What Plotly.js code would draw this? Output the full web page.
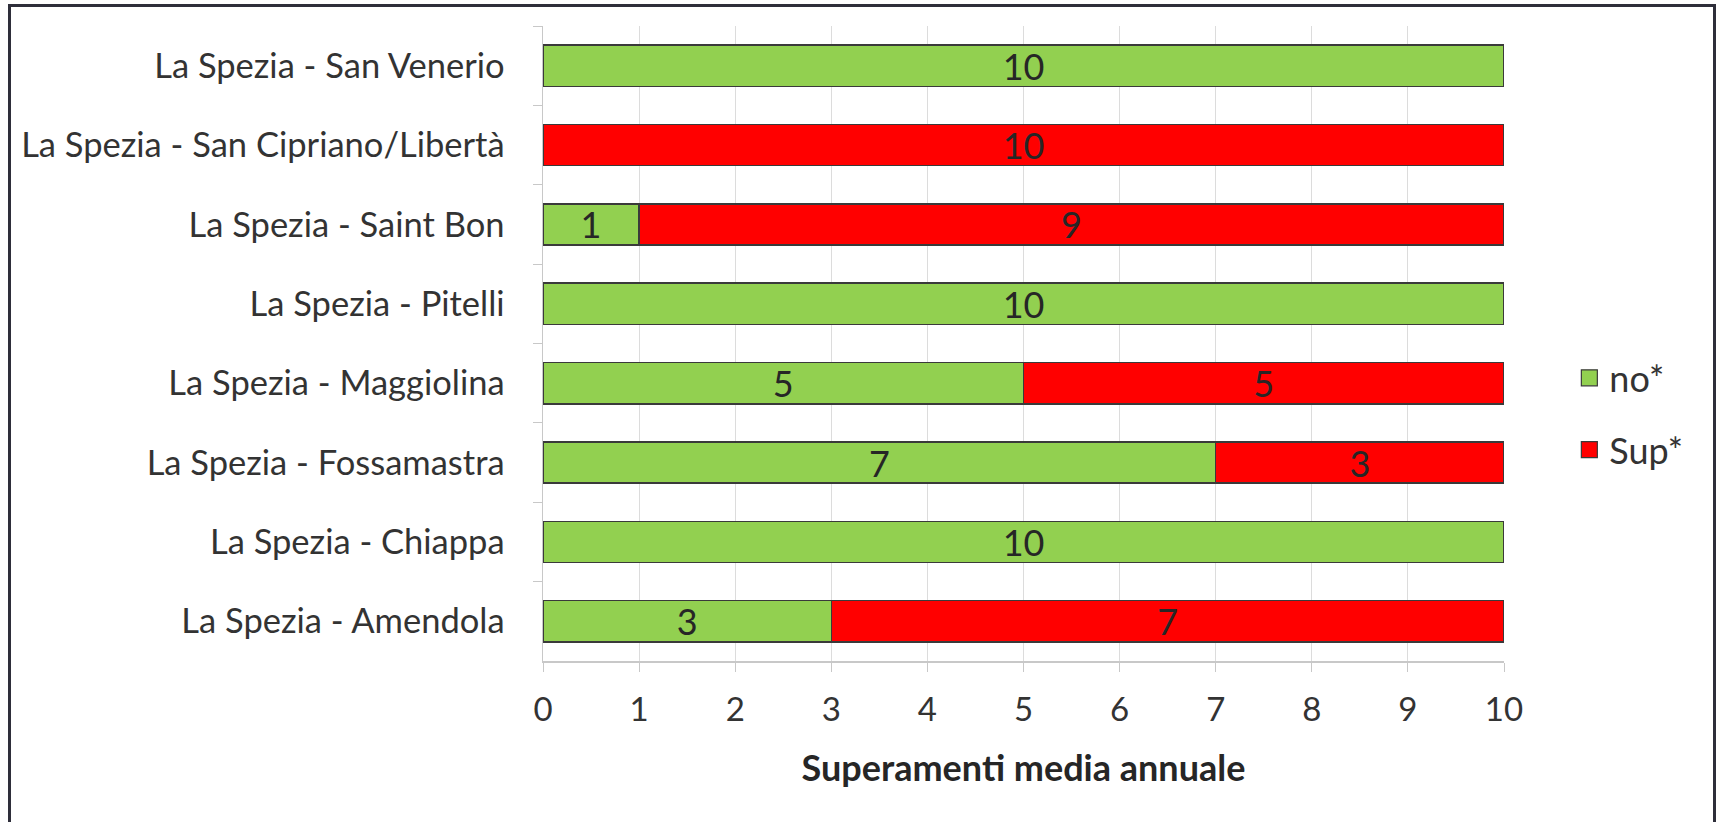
<!DOCTYPE html>
<html>
<head>
<meta charset="utf-8">
<script src="https://cdn.plot.ly/plotly-3.0.1.min.js"></script>
<style>
  html, body { margin: 0; padding: 0; background: #fff; }
  #wrap { position: relative; width: 1723px; height: 822px; overflow: hidden; }
  #chart { width: 1723px; height: 822px; }
  #frame { position: absolute; left: 8px; top: 4px; width: 1708px; height: 830px;
           border: 3px solid #2e2e3a; pointer-events: none; box-sizing: border-box; }
</style>
</head>
<body>
<div id="wrap">
  <div id="chart"></div>
  <div id="frame"></div>
</div>
<script>
// Categories, top to bottom
const stations = [
  "La Spezia - San Venerio",
  "La Spezia - San Cipriano/Libertà",
  "La Spezia - Saint Bon",
  "La Spezia - Pitelli",
  "La Spezia - Maggiolina",
  "La Spezia - Fossamastra",
  "La Spezia - Chiappa",
  "La Spezia - Amendola"
];
const noValues  = [10, 0, 1, 10, 5, 7, 10, 3];
const supValues = [0, 10, 9, 0, 5, 3, 0, 7];
const seriesNames = ["no*", "Sup*"];
const seriesColors = ["#92D050", "#FF0000"];
const xTicks = [0, 1, 2, 3, 4, 5, 6, 7, 8, 9, 10];
const xTitle = "Superamenti media annuale";

const FONT = "Lato, 'Open Sans', sans-serif";
const outline = { color: "#3a3a3a", width: 1.5 };

function mkBar(vals, color) {
  // only the non-zero segments are drawn
  const keep = vals.map(v => v !== 0);
  return {
    type: "bar",
    orientation: "h",
    y: stations.filter((_, i) => keep[i]),
    x: vals.filter((_, i) => keep[i]),
    showlegend: false,
    marker: { color: color, line: outline },
    texttemplate: "%{x}",
    textposition: "inside",
    insidetextanchor: "middle",
    textangle: 0,
    constraintext: "none",
    textfont: { family: FONT, size: 36, color: "#262626" },
    hoverinfo: "x+y"
  };
}

function mkLegend(name, color, group) {
  return {
    type: "scatter",
    mode: "markers",
    x: [null],
    y: [null],
    name: name,
    legendgroup: group,
    showlegend: true,
    marker: { symbol: "square", size: 16, color: color, line: { color: "#3a3a3a", width: 1.2 } },
    hoverinfo: "skip"
  };
}

const data = [
  mkBar(noValues, seriesColors[0]),
  mkBar(supValues, seriesColors[1]),
  mkLegend(seriesNames[0], seriesColors[0], "g1"),
  mkLegend(seriesNames[1], seriesColors[1], "g2")
];

const layout = {
  width: 1723,
  height: 822,
  margin: { l: 543, r: 219, t: 26, b: 161, pad: 0 },
  paper_bgcolor: "#ffffff",
  plot_bgcolor: "#ffffff",
  barmode: "stack",
  bargap: 0.48,
  font: { family: FONT, color: "#333333" },
  showlegend: true,
  legend: {
    x: 1.068, xanchor: "left",
    y: 0.493, yanchor: "top",
    traceorder: "grouped",
    tracegroupgap: 22,
    font: { family: FONT, size: 36, color: "#333333" },
    bgcolor: "rgba(0,0,0,0)"
  },
  xaxis: {
    range: [0, 10],
    tickvals: xTicks,
    ticktext: xTicks.map(String),
    showgrid: true,
    gridcolor: "#dcdcdc",
    gridwidth: 1,
    zeroline: false,
    showline: true,
    linecolor: "#c8c8c8",
    linewidth: 1.5,
    ticks: "outside",
    ticklen: 9,
    tickcolor: "#c8c8c8",
    ticklabelstandoff: 10,
    tickfont: { family: FONT, size: 33, color: "#333333" },
    fixedrange: true,
    title: {
      text: "<b>" + xTitle + "</b>",
      font: { family: FONT, size: 36, color: "#262626" },
      standoff: 28
    }
  },
  yaxis: {
    type: "category",
    categoryorder: "array",
    categoryarray: stations,
    autorange: "reversed",
    showgrid: false,
    zeroline: false,
    showline: true,
    linecolor: "#c8c8c8",
    linewidth: 1.5,
    ticks: "outside",
    tickson: "boundaries",
    ticklen: 9,
    tickcolor: "#c8c8c8",
    ticklabelstandoff: 30,
    tickfont: { family: FONT, size: 34.5, color: "#333333" },
    fixedrange: true
  }
};

Plotly.newPlot("chart", data, layout, { displayModeBar: false, staticPlot: true });
</script>
</body>
</html>
